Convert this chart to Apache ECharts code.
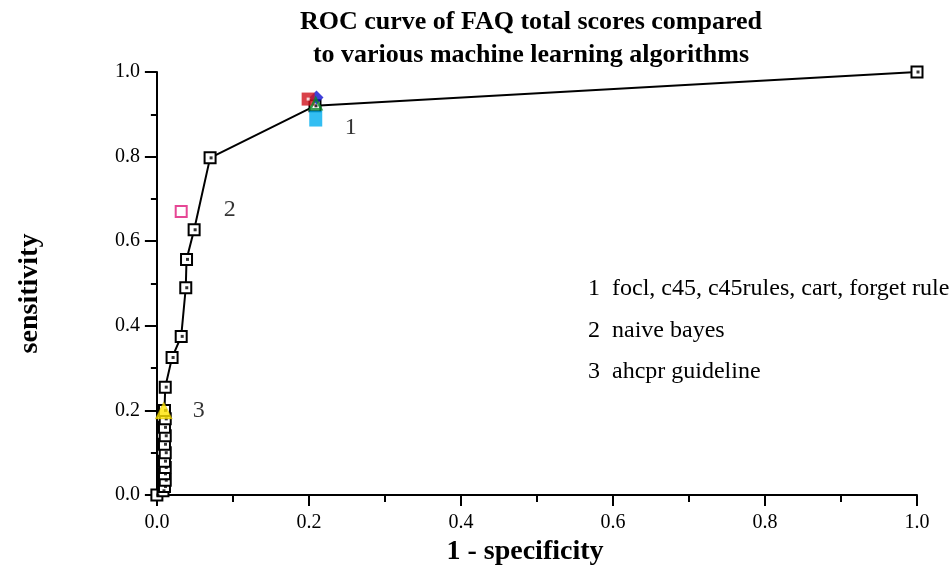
<!DOCTYPE html>
<html>
<head>
<meta charset="utf-8">
<script src="https://cdn.jsdelivr.net/npm/echarts@6/dist/echarts.min.js"></script>
<style>html,body{margin:0;padding:0;background:#fff}#c{width:951px;height:578px}</style>
</head>
<body>
<div id="c"></div>
<script>
// ROC curve of FAQ total scores (1 - specificity, sensitivity)
const rocX = [0, 0.008, 0.01, 0.011, 0.01, 0.011, 0.01, 0.011, 0.01, 0.011, 0.01, 0.011, 0.01, 0.011, 0.02, 0.032, 0.038, 0.039, 0.049, 0.07, 0.208, 1.0];
const rocY = [0, 0.01, 0.02, 0.035, 0.05, 0.065, 0.08, 0.1, 0.12, 0.14, 0.16, 0.18, 0.2, 0.255, 0.325, 0.375, 0.49, 0.557, 0.627, 0.797, 0.92, 1.0];
// machine learning algorithm points
const naiveBayes = [0.032, 0.67];
const focl = [0.199, 0.936];
const c45 = [0.21, 0.94];
const c45rules = [0.209, 0.925];
const cart = [0.209, 0.89];
const ahcpr = [0.009, 0.2];
// annotation numbers
const annoText = ['1', '2', '3'];
const annoX = [0.255, 0.096, 0.055];
const annoY = [0.868, 0.675, 0.2];
const legendLines = ['1  focl, c45, c45rules, cart, forget rule', '2  naive bayes', '3  ahcpr guideline'];
// ticks
const majorTicks = [0, 0.2, 0.4, 0.6, 0.8, 1.0];
const minorTicks = [0.1, 0.3, 0.5, 0.7, 0.9];
const tickLabels = ['0.0', '0.2', '0.4', '0.6', '0.8', '1.0'];

const FONT = '"Liberation Serif", "Times New Roman", serif';
const chart = echarts.init(document.getElementById('c'), null, {renderer: 'canvas'});
const labelFmt = v => {
  const i = majorTicks.findIndex(t => Math.abs(t - v) < 1e-6);
  return i >= 0 ? tickLabels[i] : '';
};
const rocData = rocX.map((x, i) => [x, rocY[i]]);

chart.setOption({
  animation: false,
  backgroundColor: '#fff',
  title: {
    text: 'ROC curve of FAQ total scores compared\nto various machine learning algorithms',
    left: 526, top: 1, textAlign: 'center',
    textStyle: {fontFamily: FONT, fontWeight: 'bold', fontSize: 26, color: '#000', lineHeight: 33}
  },
  grid: {left: 147, right: 34, top: 72, bottom: 83, containLabel: false},
  xAxis: [{
    type: 'value', min: -0.013, max: 1.0,
    name: '1 - specificity', nameLocation: 'middle', nameGap: 39,
    nameTextStyle: {fontFamily: FONT, fontWeight: 'bold', fontSize: 28, color: '#000', padding: [0, 14, 0, 0]},
    axisLine: {onZero: false, lineStyle: {color: '#000', width: 2}},
    axisTick: {customValues: majorTicks, length: 11, lineStyle: {color: '#000', width: 2}},
    axisLabel: {customValues: majorTicks, formatter: labelFmt, margin: 18, fontFamily: FONT, fontSize: 20, color: '#000'},
    splitLine: {show: false}
  }, {
    type: 'value', min: -0.013, max: 1.0, position: 'bottom', gridIndex: 0,
    axisLine: {show: false, onZero: false},
    axisTick: {customValues: minorTicks, length: 7, lineStyle: {color: '#000', width: 2}},
    axisLabel: {show: false},
    splitLine: {show: false}
  }],
  yAxis: {
    type: 'value', min: 0, max: 1.0, interval: 0.2,
    name: 'sensitivity', nameLocation: 'middle', nameGap: 103, nameRotate: 90,
    nameTextStyle: {fontFamily: FONT, fontWeight: 'bold', fontSize: 28, color: '#000', padding: [0, 20, 0, 0]},
    axisLine: {onZero: true, onZeroAxisIndex: 0, lineStyle: {color: '#000', width: 2}},
    axisTick: {length: 12, lineStyle: {color: '#000', width: 2}},
    minorTick: {show: true, splitNumber: 2, length: 6, lineStyle: {color: '#000', width: 2}},
    axisLabel: {formatter: labelFmt, margin: 7, fontFamily: FONT, fontSize: 20, color: '#000'},
    splitLine: {show: false}
  },
  series: [
    {
      type: 'line', data: rocData, xAxisIndex: 0,
      lineStyle: {color: '#000', width: 2},
      symbol: 'rect', symbolSize: 11,
      itemStyle: {color: '#fff', borderColor: '#000', borderWidth: 2},
      z: 2
    },
    {
      type: 'scatter', data: rocData, symbol: 'rect', symbolSize: 3,
      symbolOffset: [1, 0], itemStyle: {color: '#000'}, z: 3
    },
    {type: 'scatter', data: [naiveBayes], symbol: 'rect', symbolSize: 11,
     itemStyle: {color: '#fff', borderColor: '#e0197a', borderWidth: 2}, z: 4},
    {type: 'scatter', data: [cart], symbol: 'rect', symbolSize: [13, 16],
     itemStyle: {color: '#00aeef'}, z: 4},
    {type: 'scatter', data: [c45], symbol: 'diamond', symbolSize: 14,
     itemStyle: {color: '#1010d0'}, z: 5},
    {type: 'scatter', data: [focl], symbol: 'rect', symbolSize: 13,
     itemStyle: {color: '#d0121b'}, z: 6},
    {type: 'scatter', data: [focl], symbol: 'rect', symbolSize: 3,
     itemStyle: {color: '#fff'}, z: 7},
    {type: 'scatter', data: [c45rules], symbol: 'triangle', symbolSize: 11,
     itemStyle: {color: 'rgba(0,0,0,0)', borderColor: '#0a8a2a', borderWidth: 2.5}, z: 7},
    {type: 'scatter', data: [ahcpr], symbol: 'triangle', symbolSize: 17,
     itemStyle: {color: '#ffe500', borderColor: '#b8a000', borderWidth: 0.5}, z: 7},
    {
      type: 'scatter', symbolSize: 0, silent: true,
      data: annoText.map((t, i) => ({value: [annoX[i], annoY[i]], name: t})),
      label: {show: true, position: 'inside', formatter: p => p.name,
        fontFamily: FONT, fontSize: 24, color: '#000'}
    }
  ],
  graphic: legendLines.map((t, i) => ({
    type: 'text', left: 588, top: 277 + i * 41.5,
    style: {text: t, font: '24px "Liberation Serif", "Times New Roman", serif', fill: '#000'}
  }))
});
</script>
</body>
</html>
